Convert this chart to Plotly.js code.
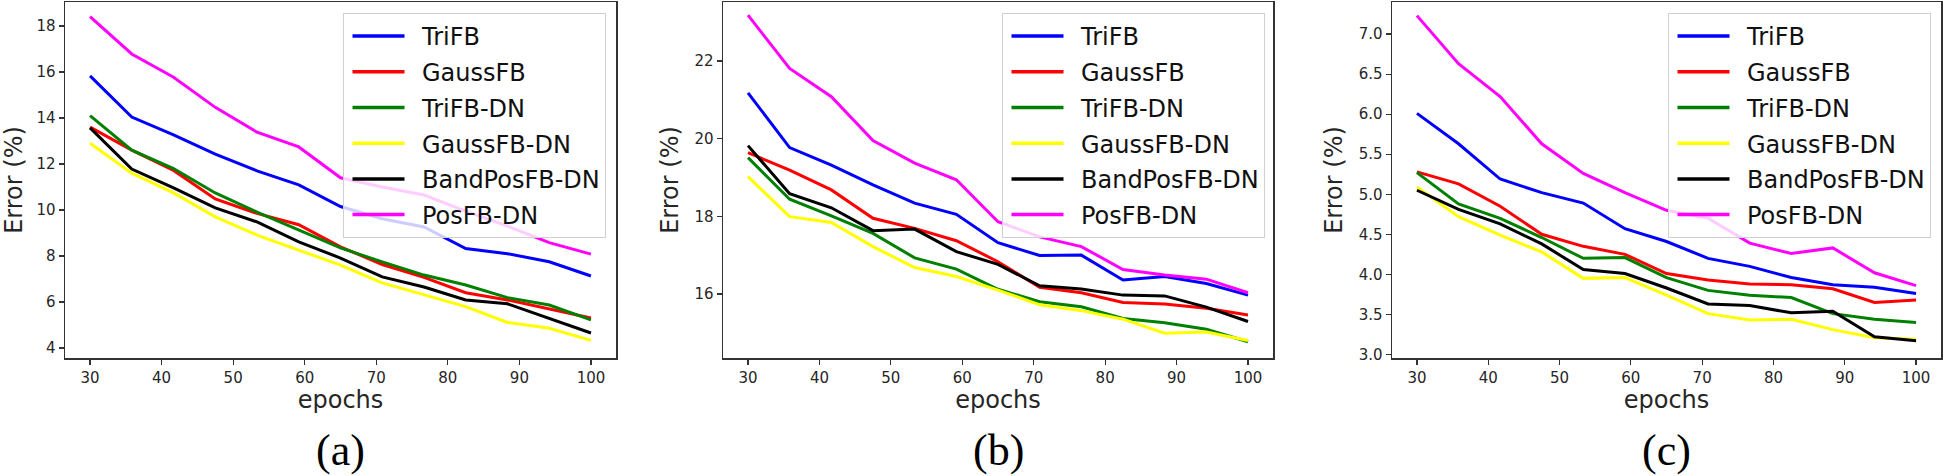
<!DOCTYPE html>
<html>
<head>
<meta charset="utf-8">
<script src="https://cdn.plot.ly/plotly-3.0.1.min.js"></script>
<style>html,body{margin:0;padding:0;background:#fff;}#chart{width:1943px;height:476px;}</style>
</head>
<body>
<div id="chart"></div>
<script>
// ---- data ----
const epochs = [30, 35.83, 41.67, 47.5, 53.33, 59.17, 65, 70.83, 76.67, 82.5, 88.33, 94.17, 100];
const seriesNames = ["TriFB", "GaussFB", "TriFB-DN", "GaussFB-DN", "BandPosFB-DN", "PosFB-DN"];
const seriesColors = ["#0000ff", "#ff0000", "#008000", "#ffff00", "#000000", "#ff00ff"];
const panelLabels = ["(a)", "(b)", "(c)"];
const xLabel = "epochs";
const yLabel = "Error (%)";

// panel (a)
const a_TriFB        = [15.83, 14.04, 13.26, 12.43, 11.70, 11.09, 10.15, 9.62, 9.26, 8.32, 8.10, 7.75, 7.13];
const a_GaussFB      = [13.60, 12.60, 11.72, 10.48, 9.85, 9.36, 8.40, 7.63, 7.07, 6.40, 6.09, 5.69, 5.30];
const a_TriFB_DN     = [14.10, 12.60, 11.80, 10.74, 9.91, 9.13, 8.35, 7.74, 7.17, 6.74, 6.19, 5.87, 5.22];
const a_GaussFB_DN   = [12.90, 11.60, 10.74, 9.70, 8.91, 8.26, 7.60, 6.83, 6.30, 5.80, 5.11, 4.86, 4.33];
const a_BandPosFB_DN = [13.57, 11.78, 10.96, 10.09, 9.48, 8.61, 7.91, 7.09, 6.65, 6.09, 5.92, 5.30, 4.65];
const a_PosFB_DN     = [18.40, 16.78, 15.77, 14.46, 13.38, 12.74, 11.40, 11.00, 10.65, 9.95, 9.30, 8.58, 8.08];

// panel (b)
const b_TriFB        = [21.18, 19.77, 19.32, 18.81, 18.34, 18.05, 17.32, 16.99, 17.00, 16.36, 16.45, 16.27, 15.97];
const b_GaussFB      = [19.64, 19.19, 18.68, 17.95, 17.69, 17.37, 16.83, 16.17, 16.03, 15.78, 15.74, 15.63, 15.46];
const b_TriFB_DN     = [19.51, 18.44, 18.01, 17.56, 16.93, 16.64, 16.12, 15.80, 15.67, 15.37, 15.26, 15.09, 14.77];
const b_GaussFB_DN   = [19.02, 17.99, 17.84, 17.22, 16.68, 16.45, 16.10, 15.72, 15.57, 15.35, 14.99, 15.02, 14.80];
const b_BandPosFB_DN = [19.82, 18.58, 18.22, 17.63, 17.67, 17.09, 16.76, 16.21, 16.13, 15.97, 15.95, 15.66, 15.29];
const b_PosFB_DN     = [23.18, 21.81, 21.08, 19.95, 19.37, 18.94, 17.86, 17.47, 17.22, 16.63, 16.49, 16.38, 16.03];

// panel (c)
const c_TriFB        = [6.01, 5.63, 5.19, 5.02, 4.89, 4.57, 4.41, 4.20, 4.10, 3.96, 3.87, 3.84, 3.76];
const c_GaussFB      = [5.28, 5.13, 4.85, 4.50, 4.35, 4.25, 4.01, 3.93, 3.88, 3.87, 3.82, 3.65, 3.68];
const c_TriFB_DN     = [5.27, 4.88, 4.70, 4.46, 4.20, 4.21, 3.96, 3.80, 3.74, 3.71, 3.51, 3.44, 3.40];
const c_GaussFB_DN   = [5.09, 4.72, 4.49, 4.28, 3.95, 3.96, 3.74, 3.51, 3.43, 3.44, 3.31, 3.21, 3.19];
const c_BandPosFB_DN = [5.05, 4.81, 4.63, 4.38, 4.06, 4.01, 3.83, 3.63, 3.61, 3.52, 3.54, 3.22, 3.17];
const c_PosFB_DN     = [7.23, 6.63, 6.22, 5.63, 5.26, 5.02, 4.80, 4.70, 4.39, 4.26, 4.33, 4.02, 3.86];

const yTicksA = [4, 6, 8, 10, 12, 14, 16, 18];
const yTicksB = [16, 18, 20, 22];
const yTicksC = [3.0, 3.5, 4.0, 4.5, 5.0, 5.5, 6.0, 6.5, 7.0];
const xTicks  = [30, 40, 50, 60, 70, 80, 90, 100];

// ---- build ----
const panels = [
  {data: [a_TriFB, a_GaussFB, a_TriFB_DN, a_GaussFB_DN, a_BandPosFB_DN, a_PosFB_DN], yr: [3.565, 19.04], yt: yTicksA, fmt: "d"},
  {data: [b_TriFB, b_GaussFB, b_TriFB_DN, b_GaussFB_DN, b_BandPosFB_DN, b_PosFB_DN], yr: [14.35, 23.52], yt: yTicksB, fmt: "d"},
  {data: [c_TriFB, c_GaussFB, c_TriFB_DN, c_GaussFB_DN, c_BandPosFB_DN, c_PosFB_DN], yr: [2.956, 7.40], yt: yTicksC, fmt: ".1f"}
];

const W = 1943, H = 476;
const xDom = [[65, 616], [723, 1273], [1392, 1941]];
const legRight = [606, 1265, 1931];
const yDom = [(H - 358) / H, (H - 2) / H];
const font = "DejaVu Sans, sans-serif";
const txt = "#262626";

const traces = [];
const layout = {
  width: W, height: H,
  margin: {l: 0, r: 0, t: 0, b: 0},
  paper_bgcolor: "#fff", plot_bgcolor: "#fff",
  showlegend: true,
  annotations: []
};

panels.forEach((p, i) => {
  const sfx = i === 0 ? "" : String(i + 1);
  const legKey = "legend" + sfx;
  p.data.forEach((vals, k) => {
    traces.push({
      x: epochs, y: vals, type: "scatter", mode: "lines",
      name: seriesNames[k],
      line: {color: seriesColors[k], width: 3},
      xaxis: "x" + sfx, yaxis: "y" + sfx,
      legend: legKey,
      legendgroup: "p" + i + "_" + k,
      hoverinfo: "skip"
    });
  });
  const axCommon = {
    showline: true, mirror: true, linecolor: "#333", linewidth: 1.5,
    ticks: "outside", ticklen: 5, tickwidth: 1.2, tickcolor: "#333",
    showgrid: false, zeroline: false,
    tickfont: {family: font, size: 15, color: txt}
  };
  layout["xaxis" + sfx] = Object.assign({}, axCommon, {
    domain: [xDom[i][0] / W, xDom[i][1] / W],
    range: [26.5, 103.5], tickvals: xTicks,
    anchor: "y" + sfx,
    title: {text: xLabel, font: {family: font, size: 24, color: txt}, standoff: 5}
  });
  layout["yaxis" + sfx] = Object.assign({}, axCommon, {
    domain: yDom, range: p.yr, tickvals: p.yt, tickformat: p.fmt,
    anchor: "x" + sfx,
    title: {text: yLabel, font: {family: font, size: 24, color: txt}, standoff: 9}
  });
  layout[legKey] = {
    x: legRight[i] / W, y: 1 - 13 / H, xanchor: "right", yanchor: "top",
    bgcolor: "rgba(255,255,255,0.8)", bordercolor: "#d0d0d0", borderwidth: 1,
    font: {family: font, size: 24, color: "#111"},
    tracegroupgap: 1.5, itemwidth: 68
  };
  layout.annotations.push({
    text: panelLabels[i], showarrow: false,
    xref: "paper", yref: "paper",
    x: (xDom[i][0] + xDom[i][1]) / 2 / W, y: (H - 450) / H,
    xanchor: "center", yanchor: "middle",
    font: {family: "Liberation Serif, Times New Roman, serif", size: 44, color: "#000"}
  });
});

Plotly.newPlot("chart", traces, layout, {staticPlot: true, displayModeBar: false}).then(gd => {
  // lengthen legend line samples (matplotlib style), starting 9px inside each legend box
  gd.querySelectorAll("g.legend, g.legend2, g.legend3").forEach(leg => {
    const bg = leg.querySelector("rect.bg");
    if (!bg) return;
    const L = bg.getBoundingClientRect().left;
    leg.querySelectorAll("g.legendlines path").forEach(p => {
      p.setAttribute("d", "M0,0h52");
      const r = p.getBoundingClientRect();
      const shift = (L + 9) - r.left;
      p.setAttribute("d", "M" + shift.toFixed(1) + ",0h52");
      p.style.strokeWidth = "3.5px";
    });
  });
});
</script>
</body>
</html>
